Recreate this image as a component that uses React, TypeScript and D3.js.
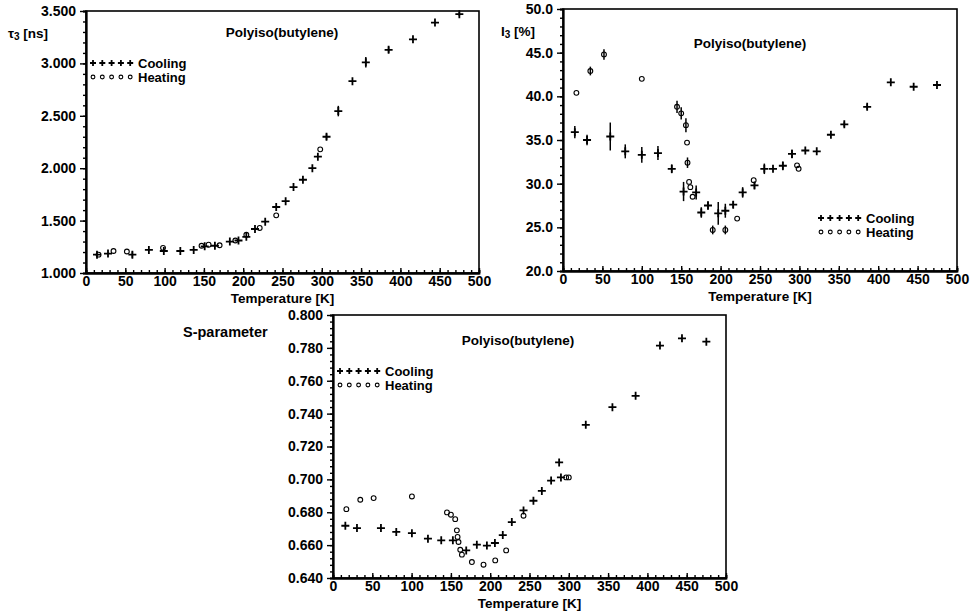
import * as d3 from 'd3'
import { useEffect, useRef } from 'react'

// [T (K), value, error]
type Pt = [number, number, number?]

const temps = d3.range(0, 501, 50)

const tauTicks = [1.0, 1.5, 2.0, 2.5, 3.0, 3.5]
const tauCooling: Pt[] = [
  [14, 1.175], [28, 1.185], [59, 1.175, 0.03], [80, 1.22], [99, 1.21], [120, 1.21], [137, 1.22],
  [151, 1.255], [164, 1.26], [183, 1.3], [194, 1.31], [204, 1.345], [215, 1.42], [228, 1.49],
  [242, 1.63], [254, 1.685], [264, 1.82], [276, 1.89], [288, 2.0], [295, 2.11], [306, 2.3, 0.03],
  [321, 2.545, 0.05], [339, 2.83], [356, 3.01, 0.05], [385, 3.13, 0.03], [416, 3.23], [444, 3.39],
  [475, 3.47, 0.02],
]
const tauHeating: Pt[] = [
  [16, 1.175], [35, 1.21], [52, 1.205], [98, 1.24], [147, 1.26], [156, 1.27], [170, 1.265],
  [190, 1.31], [204, 1.365], [221, 1.43], [242, 1.55], [298, 2.18],
]

const i3Ticks = [20, 25, 30, 35, 40, 45, 50]
const i3Cooling: Pt[] = [
  [15, 35.9, 0.7], [30.5, 35.0, 0.6], [60, 35.4, 1.6], [79, 33.7, 0.8], [100, 33.3, 0.9],
  [120.5, 33.5, 0.8], [138, 31.7, 0.5], [153, 29.1, 1.1], [169, 29.0, 0.8], [175.5, 26.7, 0.6],
  [184, 27.5, 0.5], [197, 26.6, 1.3], [206, 26.9, 0.8], [216, 27.6, 0.4], [228, 29.0, 0.6],
  [243, 29.8, 0.4], [255.5, 31.7, 0.6], [266.5, 31.7], [279, 32.05, 0.5], [290.6, 33.4, 0.5],
  [307.5, 33.8], [322, 33.7], [340, 35.6], [357, 36.8, 0.3], [386, 38.8, 0.3], [416, 41.6],
  [445, 41.1], [474.6, 41.3],
]
const i3Heating: Pt[] = [
  [17, 40.4], [34.7, 42.9, 0.5], [52, 44.8, 0.6], [100, 42.0], [144.7, 38.8, 0.7],
  [150, 38.05, 0.7], [156, 36.7, 0.8], [157.4, 34.7], [158, 32.4, 0.6], [160, 30.2],
  [161.6, 29.6], [164.5, 28.5], [190, 24.7, 0.5], [206, 24.7, 0.5], [221, 26.0], [242, 30.4],
  [297, 32.1], [299, 31.7],
]

const sTicks = [0.64, 0.66, 0.68, 0.7, 0.72, 0.74, 0.76, 0.78, 0.8]
const sCooling: Pt[] = [
  [15.7, 0.6718], [30.5, 0.6704], [61, 0.6704], [80.5, 0.668], [100.4, 0.6673], [120.8, 0.6639],
  [137.7, 0.6629], [152.5, 0.6629], [169.5, 0.6568], [183, 0.6603], [195.8, 0.6597],
  [206, 0.6613], [216, 0.6661], [227.5, 0.674], [242.4, 0.6811], [255, 0.687], [265.7, 0.693],
  [277.5, 0.6993], [287.7, 0.7103], [290, 0.7012], [321.6, 0.7332], [355.5, 0.7439],
  [385, 0.7508], [416, 0.7814], [444, 0.7858], [475, 0.7838],
]
const sHeating: Pt[] = [
  [17, 0.6819], [34.7, 0.6876], [51.7, 0.6886], [100.4, 0.6896], [145, 0.6799], [150, 0.6785],
  [155.5, 0.6758], [157.6, 0.669], [158.5, 0.665], [159.7, 0.6619], [161.9, 0.6572],
  [164, 0.6542], [176.7, 0.6497], [191.5, 0.6481], [206.4, 0.6507], [220.3, 0.6568],
  [242.4, 0.6779], [296.6, 0.7012], [300, 0.7012],
]

const FONT = "'Liberation Sans', Arial, sans-serif"

type Panel = {
  left: number
  right: number
  top: number
  bottom: number
  yTicks: number[]
  yMinor: number
  yFormat: string
  cooling: Pt[]
  heating: Pt[]
  legend: [number, number]
  title: [number, number]
  yLabel: { x: number; y: number; main: string; sub?: string; rest?: string }
}

const panels: Panel[] = [
  {
    left: 86, right: 479, top: 11, bottom: 273,
    yTicks: tauTicks, yMinor: 0.1, yFormat: '.3f',
    cooling: tauCooling, heating: tauHeating,
    legend: [90, 63], title: [282, 37],
    yLabel: { x: 8, y: 38, main: 'τ', sub: '3', rest: '  [ns]' },
  },
  {
    left: 563, right: 957, top: 9, bottom: 271,
    yTicks: i3Ticks, yMinor: 1, yFormat: '.1f',
    cooling: i3Cooling, heating: i3Heating,
    legend: [818, 218], title: [750, 48],
    yLabel: { x: 501, y: 36, main: 'I', sub: '3', rest: ' [%]' },
  },
  {
    left: 333, right: 726, top: 315, bottom: 578,
    yTicks: sTicks, yMinor: 0.004, yFormat: '.3f',
    cooling: sCooling, heating: sHeating,
    legend: [337, 371], title: [518, 345],
    yLabel: { x: 183, y: 337, main: 'S-parameter' },
  },
]

function drawPanel(svg: d3.Selection<SVGSVGElement, unknown, null, undefined>, p: Panel) {
  const x = d3.scaleLinear().domain([0, 500]).range([p.left, p.right])
  const yExt = d3.extent(p.yTicks) as [number, number]
  const y = d3.scaleLinear().domain(yExt).range([p.bottom, p.top])
  const g = svg.append('g')

  const minorX = d3.range(0, 501, 10)
  const minorY = d3.range(yExt[0], yExt[1] + p.yMinor / 2, p.yMinor)

  const style = (sel: d3.Selection<SVGGElement, unknown, null, undefined>) => {
    sel.select('.domain').attr('stroke', '#000').attr('stroke-width', 1.8)
    sel.selectAll('line').attr('stroke', '#000').attr('stroke-width', 1.4)
    sel.selectAll('text').attr('fill', '#000').style('font', `bold 14px ${FONT}`)
  }

  // frame
  g.append('rect')
    .attr('x', p.left).attr('y', p.top)
    .attr('width', p.right - p.left).attr('height', p.bottom - p.top)
    .attr('fill', 'none').attr('stroke', '#000').attr('stroke-width', 1.6)

  // bottom axis, ticks pointing inward
  g.append('g')
    .attr('transform', `translate(0,${p.bottom})`)
    .call(d3.axisTop(x).tickValues(minorX).tickSize(3).tickFormat(() => ''))
    .call(style)
  g.append('g')
    .attr('transform', `translate(0,${p.bottom})`)
    .call(d3.axisBottom(x).tickValues(temps).tickSizeInner(-5).tickSizeOuter(0).tickPadding(3).tickFormat(d3.format('d')))
    .call(style)
  // left axis, ticks pointing outward
  g.append('g')
    .attr('transform', `translate(${p.left},0)`)
    .call(d3.axisLeft(y).tickValues(minorY).tickSize(3).tickFormat(() => ''))
    .call(style)
  g.append('g')
    .attr('transform', `translate(${p.left},0)`)
    .call(d3.axisLeft(y).tickValues(p.yTicks).tickSizeInner(6).tickSizeOuter(0).tickPadding(4).tickFormat(d3.format(p.yFormat)))
    .call(style)

  // error bars
  const all = [...p.cooling, ...p.heating].filter((d) => d[2])
  g.selectAll('line.err')
    .data(all)
    .join('line')
    .attr('class', 'err')
    .attr('x1', (d) => x(d[0]))
    .attr('x2', (d) => x(d[0]))
    .attr('y1', (d) => y(d[1] - (d[2] ?? 0)))
    .attr('y2', (d) => y(d[1] + (d[2] ?? 0)))
    .attr('stroke', '#000')
    .attr('stroke-width', 1.5)

  const cross = (sel: d3.Selection<SVGGElement, unknown, null, undefined>, data: [number, number][], s = 4) =>
    sel.selectAll('path.c')
      .data(data)
      .join('path')
      .attr('class', 'c')
      .attr('transform', (d) => `translate(${d[0]},${d[1]})`)
      .attr('d', `M${-s},0H${s}M0,${-s}V${s}`)
      .attr('stroke', '#000')
      .attr('stroke-width', 1.8)
  const circ = (sel: d3.Selection<SVGGElement, unknown, null, undefined>, data: [number, number][], r = 2.4) =>
    sel.selectAll('circle.h')
      .data(data)
      .join('circle')
      .attr('class', 'h')
      .attr('cx', (d) => d[0])
      .attr('cy', (d) => d[1])
      .attr('r', r)
      .attr('fill', 'none')
      .attr('stroke', '#000')
      .attr('stroke-width', 1.1)

  g.append('g').call(cross, p.cooling.map((d) => [x(d[0]), y(d[1])] as [number, number]))
  g.append('g').call(circ, p.heating.map((d) => [x(d[0]), y(d[1])] as [number, number]))

  // legend
  const [lx, ly] = p.legend
  const sym = d3.range(5).map((i) => lx + 3 + i * 9.3)
  g.append('g').call(cross, sym.map((sx) => [sx, ly] as [number, number]), 3)
  g.append('g').call(circ, sym.map((sx) => [sx, ly + 14] as [number, number]), 1.9)
  const txt = g.append('g').attr('fill', '#000').style('font', `bold 13px ${FONT}`)
  txt.append('text').attr('x', lx + 48).attr('y', ly + 4.5).text('Cooling')
  txt.append('text').attr('x', lx + 48).attr('y', ly + 18.5).text('Heating')

  // titles
  const t = g.append('g').attr('fill', '#000').style('font', `bold 13.5px ${FONT}`)
  t.append('text').attr('x', p.title[0]).attr('y', p.title[1]).attr('text-anchor', 'middle').text('Polyiso(butylene)')
  t.append('text')
    .attr('x', (p.left + p.right) / 2)
    .attr('y', p.bottom + 30)
    .attr('text-anchor', 'middle')
    .text('Temperature  [K]')
  const yl = t.append('text').attr('x', p.yLabel.x).attr('y', p.yLabel.y)
  yl.append('tspan').text(p.yLabel.main)
  if (p.yLabel.sub) {
    yl.append('tspan').attr('dy', 2).style('font-size', '10px').text(p.yLabel.sub)
    yl.append('tspan').attr('dy', -2).text(p.yLabel.rest ?? '')
  } else {
    yl.style('font-size', '14.5px')
  }
}

export default function App() {
  const ref = useRef<SVGSVGElement>(null)
  useEffect(() => {
    if (!ref.current) return
    const svg = d3.select(ref.current)
    svg.selectAll('*').remove()
    panels.forEach((p) => drawPanel(svg, p))
  }, [])
  return (
    <svg
      ref={ref}
      width={978}
      height={611}
      style={{ position: 'absolute', left: 0, top: 0, background: '#fff' }}
    />
  )
}
